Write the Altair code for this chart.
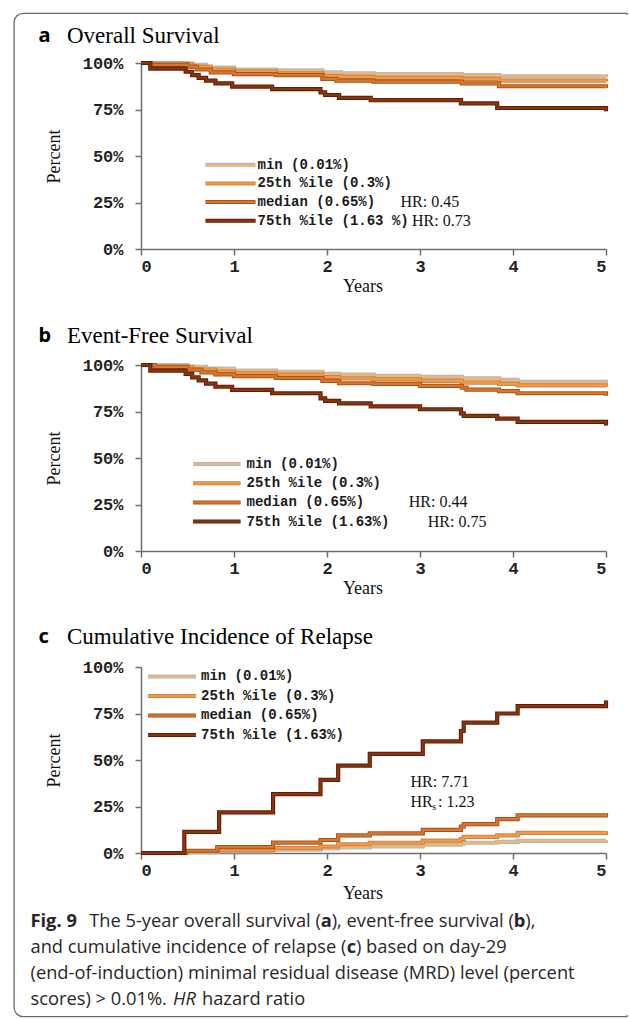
import altair as alt
import pandas as pd

# ---- series (names, colours) ----
SERIES = ["min (0.01%)", "25th %ile (0.3%)", "median (0.65%)", "75th %ile (1.63%)"]
EDGE = ["#A9B9C9", "#C98442", "#A8521B", "#5E1E05"]
CORE = ["#F7B56C", "#F29A48", "#D9772C", "#8A3510"]

# ---- a: overall survival (years, percent) ----
os_t = [
    [0, 0.5, 0.7, 1.0, 1.45, 1.95, 2.15, 2.5, 3.45, 3.85, 5],
    [0, 0.1, 0.55, 0.75, 1.0, 1.45, 1.95, 2.15, 2.5, 3.45, 3.85, 5],
    [0, 0.1, 0.5, 0.6, 0.75, 1.0, 1.45, 1.95, 2.1, 2.5, 3.45, 3.85, 5],
    [0, 0.1, 0.48, 0.55, 0.62, 0.7, 0.8, 0.98, 1.41, 1.93, 1.98, 2.13, 2.47, 3.44, 3.83, 5],
]
os_v = [
    [100, 99, 97.5, 96.5, 96, 95, 94.5, 94, 93.5, 92.8, 92.3],
    [100, 99.5, 98, 96.5, 95.5, 94.5, 93, 92.5, 92, 91.5, 90.5, 90],
    [100, 99, 98, 96.5, 95, 94, 93.5, 91.5, 90.5, 90, 89, 87.5, 86.5],
    [100, 97, 95.3, 93.5, 92, 90.5, 89, 87.3, 86, 84.2, 82.8, 81.3, 80, 78.3, 75.8, 74],
]

# ---- b: event-free survival ----
efs_t = [
    [0, 0.5, 0.7, 1.0, 1.45, 1.95, 2.13, 2.5, 3.0, 3.45, 3.85, 4.05, 5],
    [0, 0.15, 0.55, 0.8, 1.0, 1.45, 1.95, 2.13, 2.5, 3.0, 3.45, 3.85, 4.05, 5],
    [0, 0.15, 0.5, 0.65, 0.8, 1.0, 1.45, 1.95, 2.13, 2.5, 3.0, 3.45, 3.5, 3.85, 4.05, 5],
    [0, 0.1, 0.48, 0.55, 0.62, 0.7, 0.8, 0.98, 1.41, 1.93, 1.98, 2.13, 2.47, 3.0, 3.44, 3.47, 3.83, 4.05, 5],
]
efs_v = [
    [100, 99, 98, 97, 96.3, 95.3, 94.8, 94.2, 93.6, 92.8, 92, 91, 90.3],
    [100, 99, 97.5, 96.5, 95.5, 94.8, 93.5, 92.8, 92.3, 91.5, 90.5, 89.8, 89, 88.3],
    [100, 99, 97.5, 96, 95, 94, 93, 91.5, 90.2, 89.8, 88.8, 87.8, 86.8, 86, 84.8, 83.5],
    [100, 97, 95.2, 93.4, 91.7, 90, 88.3, 86.6, 84.8, 82.1, 80.7, 79.4, 77.8, 76.2, 74, 72.7, 71.2, 69.4, 67.5],
]

# ---- c: cumulative incidence of relapse ----
cir_steps = [0, 0.48, 0.82, 1.42, 1.93, 2.12, 2.46, 3.03, 3.44, 3.47, 3.83, 4.05, 5]
cir_t = [cir_steps, cir_steps, cir_steps,
         [0, 0.466, 0.84, 1.42, 1.93, 2.12, 2.46, 3.03, 3.44, 3.47, 3.83, 4.05, 5]]
cir_v = [
    [0, 0.5, 1, 1.8, 2.5, 3, 3.5, 4.5, 5, 5.5, 6, 6.5, 7],
    [0, 1, 1.5, 2.7, 3.5, 4.7, 5.5, 6.7, 7.5, 8.7, 9.5, 10.8, 11.8],
    [0, 1.2, 3.2, 5.6, 7, 9.5, 10.6, 12.4, 14.2, 15.5, 18.2, 20.2, 21.5],
    [0, 11.4, 21.8, 31.7, 39.3, 47, 53.3, 60, 65.6, 70.1, 75, 79, 82],
]

Y_TICKS = [0, 25, 50, 75, 100]
X_TICKS = [0, 1, 2, 3, 4, 5]

# caption lines: (text, style) runs; "gap" runs are blank space in pixels
CAPTION = [
    [("Fig. 9", "b"), (12, "gap"), ("The 5-year overall survival (", "r"), ("a", "b"),
     ("), event-free survival (", "r"), ("b", "b"), ("),", "r")],
    [("and cumulative incidence of relapse (", "r"), ("c", "b"), (") based on day-29", "r")],
    [("(end-of-induction) minimal residual disease (MRD) level (percent", "r")],
    [("scores) > 0.01%.", "r"), (6, "gap"), ("HR", "i"), (5, "gap"), ("hazard ratio", "r")],
]

W, H = 465, 186
SERIF = "Liberation Serif"
SLAB = "Liberation Mono"
CAP_FONT = "Open Sans"
CAP_SIZE = 18.3

# approximate advance widths of Open Sans (units per 2048 em), used to chain caption runs
_REG = {" ": 532, "%": 1696, "(": 596, ")": 596, ",": 502, "-": 659, ".": 545, ">": 1171,
        "D": 1479, "F": 1055, "H": 1505, "M": 1823, "R": 1255, "T": 1092,
        "a": 1139, "b": 1255, "c": 975, "d": 1255, "e": 1149, "f": 694, "g": 1122,
        "h": 1257, "i": 518, "l": 518, "m": 1905, "n": 1257, "o": 1237, "p": 1255,
        "r": 836, "s": 977, "t": 723, "u": 1257, "v": 1026, "y": 1026, "z": 977}
_BOLD = {" ": 532, ".": 586, "F": 1133, "i": 621, "g": 1186, "a": 1208, "b": 1300, "c": 1044}


def run_width(s, style):
    table = _BOLD if style == "b" else _REG
    units = sum(table.get(ch, 1171 if ch.isdigit() else _REG.get(ch, 1100)) for ch in s)
    w = units / 2048 * CAP_SIZE
    return w * 0.97 if style == "i" else w


def one(text=""):
    return alt.Chart(pd.DataFrame({"text": [text]}))


def label(text, x, y, **style):
    kw = dict(align="left", baseline="middle", font=SERIF, fontSize=16, color="#111")
    kw.update(style)
    return one(text).mark_text(**kw).encode(x=alt.value(x), y=alt.value(y), text="text:N")


def curves(times, values, x_title_y):
    layers = []
    for i, (ts, vs) in enumerate(zip(times, values)):
        df = pd.DataFrame({"t": ts, "v": vs, "series": SERIES[i],
                           "edge": EDGE[i], "core": CORE[i]})
        base = alt.Chart(df).encode(
            x=alt.X("t:Q", scale=alt.Scale(domain=[0, 5], nice=False),
                    axis=alt.Axis(values=X_TICKS, format="d", title="Years",
                                  titleX=221.5, titleY=x_title_y,
                                  titleBaseline="middle", titleAlign="center")),
            y=alt.Y("v:Q", scale=alt.Scale(domain=[0, 100], nice=False),
                    axis=alt.Axis(values=Y_TICKS, labelExpr="datum.value + '%'",
                                  title="Percent", titleX=-86.5, titleY=93,
                                  titleAngle=270, titleAlign="center",
                                  titleBaseline="middle")),
        )
        layers.append(base.mark_line(interpolate="step-after", strokeWidth=4.2)
                      .encode(color=alt.Color("edge:N", scale=None)))
        layers.append(base.mark_line(interpolate="step-after", strokeWidth=2.2)
                      .encode(color=alt.Color("core:N", scale=None)))
    return layers


def legend(labels, y0, dy, sx1, sx2, tx):
    df = pd.DataFrame({"label": labels, "row": list(range(len(labels))),
                       "edge": EDGE, "core": CORE})
    base = alt.Chart(df).transform_calculate(py=f"{y0} + datum.row * {dy}")
    ypos = alt.Y("py:Q", scale=None, axis=None)
    edge = base.mark_rule(strokeWidth=4).encode(
        x=alt.value(sx1), x2=alt.value(sx2), y=ypos, color=alt.Color("edge:N", scale=None))
    core = base.mark_rule(strokeWidth=2).encode(
        x=alt.value(sx1), x2=alt.value(sx2), y=ypos, color=alt.Color("core:N", scale=None))
    text = base.mark_text(align="left", baseline="middle", font=SLAB, fontWeight="bold",
                          fontSize=14, color="#1a1a1a").encode(
        x=alt.value(tx), y=ypos, text="label:N")
    return [edge, core, text]


def title(letter, text, y):
    return [
        label(letter, -102.5, y, font="Noto Sans", fontWeight="bold", fontSize=20, color="#000"),
        label(text, -74, y, fontSize=23, color="#000"),
    ]


def caption(x0, y0, dy):
    marks = []
    for li, runs in enumerate(CAPTION):
        x = x0
        y = y0 + li * dy
        for text, style in runs:
            if style == "gap":
                x += text
                continue
            kw = dict(font=CAP_FONT, fontSize=CAP_SIZE, color="#2a2627")
            if style == "b":
                kw["fontWeight"] = "bold"
            elif style == "i":
                kw["fontStyle"] = "italic"
            marks.append(label(text, x, y, **kw))
            x += run_width(text, style)
    return marks


# ---- panel a (also carries the rounded outer frame) ----
frame = one().mark_rect(fillOpacity=0, stroke="#6a6a6a", strokeWidth=1.3,
                        cornerRadiusTopLeft=9, cornerRadiusBottomLeft=9).encode(
    x=alt.value(-126.9), x2=alt.value(486), y=alt.value(-49.7), y2=alt.value(953.7))
frame_cut = one().mark_rule(color="white", strokeWidth=3).encode(
    x=alt.value(486), y=alt.value(-48), y2=alt.value(952))

panel_a = alt.layer(
    frame, frame_cut,
    *title("a", "Overall Survival", -27),
    *curves(os_t, os_v, 37),
    *legend(["min (0.01%)", "25th %ile (0.3%)", "median (0.65%)", "75th %ile (1.63 %)"],
            101.7, 18.7, 64.5, 114.5, 116.5),
    label("HR: 0.45", 259.5, 139.4),
    label("HR: 0.73", 271, 158),
).properties(width=W, height=H)

# ---- panel b ----
panel_b = alt.layer(
    *title("b", "Event-Free Survival", -29),
    *curves(efs_t, efs_v, 37),
    *legend(SERIES, 99, 19.2, 52, 99.5, 105.5),
    label("HR: 0.44", 267.8, 137.4),
    label("HR: 0.75", 286.8, 156.6),
).properties(width=W, height=H)

# ---- panel c, with the figure caption underneath ----
panel_c = alt.layer(
    *title("c", "Cumulative  Incidence of Relapse", -30.5),
    *curves(cir_t, cir_v, 40),
    *legend(SERIES, 9.4, 19.5, 7, 55, 60),
    label("HR: 7.71", 269.5, 115.4),
    label("HR", 269.5, 135.4),
    label("s", 291.2, 139.5, fontSize=10),
    label(": 1.23", 297, 135.4),
    *caption(-110.5, 254.7, 26.1),
).properties(width=W, height=H)

chart = alt.vconcat(panel_a, panel_b, panel_c, spacing=116, bounds="flush").properties(
    padding={"left": 13, "top": 12, "right": 0, "bottom": 0},
).configure_view(stroke=None).configure_axis(
    grid=False,
    domainColor="#6e6e6e", domainWidth=1.5,
    tickColor="#6e6e6e", tickWidth=1.5, tickSize=6,
    labelFont=SLAB, labelFontWeight="bold", labelFontSize=17, labelColor="#222",
    titleFont=SERIF, titleFontSize=18, titleFontWeight="normal", titleColor="#111",
).configure_axisY(labelPadding=12).configure_axisX(labelPadding=3)

chart.save("out.html", embed_options={"renderer": "svg", "actions": False})
